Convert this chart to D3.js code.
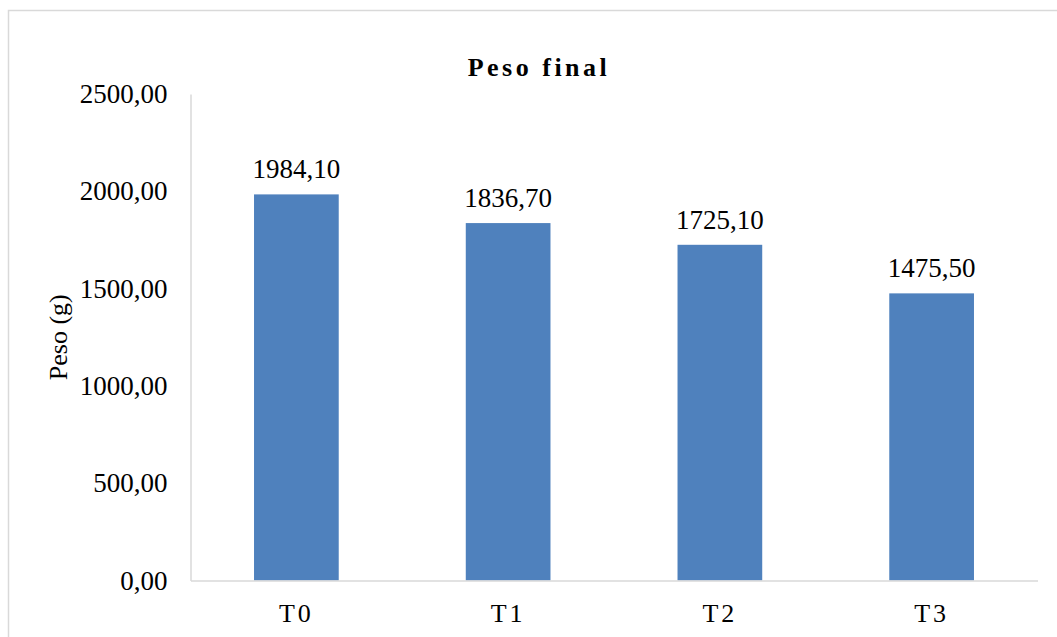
<!DOCTYPE html>
<html>
<head>
<meta charset="utf-8">
<script src="https://cdn.jsdelivr.net/npm/d3@7"></script>
<style>
  html, body { margin: 0; padding: 0; background: #fff; }
  svg { display: block; }
  text { font-family: "Liberation Serif", "Times New Roman", serif; fill: #000; }
</style>
</head>
<body>
<svg id="chart" width="1057" height="637"></svg>
<script>
// Final weight per treatment
const categories = ["T0", "T1", "T2", "T3"];
const values = [1984.10, 1836.70, 1725.10, 1475.50];
const yTicks = [0, 500, 1000, 1500, 2000, 2500];
const chartTitle = "Peso final";
const yTitle = "Peso (g)";

const W = 1057, H = 637;
const margin = { left: 190.5, right: 19.5, top: 94, bottom: 56.5 };

const svg = d3.select("#chart");
const fmt = v => d3.format(".2f")(v).replace(".", ",");

// chart frame
svg.append("rect")
  .attr("x", 8.5).attr("y", 10.5)
  .attr("width", W + 20).attr("height", H + 20)
  .attr("fill", "none").attr("stroke", "#D9D9D9").attr("stroke-width", 1.5);

const x = d3.scaleBand()
  .domain(categories)
  .range([margin.left, W - margin.right])
  .paddingInner(0.6).paddingOuter(0.3);

const y = d3.scaleLinear()
  .domain([0, 2500])
  .range([H - margin.bottom, margin.top]);

// y axis
const yAxis = svg.append("g")
  .attr("transform", `translate(${margin.left},0)`)
  .call(d3.axisLeft(y).tickValues(yTicks).tickSize(0).tickPadding(23).tickFormat(fmt));
yAxis.select(".domain").attr("stroke", "#D9D9D9").attr("stroke-width", 1.5);
yAxis.selectAll("text")
  .style("font-family", "Liberation Serif, Times New Roman, serif")
  .style("font-size", "27px").attr("fill", "#000");

// bars
svg.append("g").selectAll("rect")
  .data(values)
  .join("rect")
  .attr("x", (d, i) => x(categories[i]))
  .attr("width", x.bandwidth())
  .attr("y", d => y(d))
  .attr("height", d => y(0) - y(d))
  .attr("fill", "#4F81BD");

// x axis
const xAxis = svg.append("g")
  .attr("transform", `translate(0,${y(0)})`)
  .call(d3.axisBottom(x).tickSize(0).tickPadding(23));
xAxis.select(".domain").attr("stroke", "#D9D9D9").attr("stroke-width", 1.5);
xAxis.selectAll("text")
  .style("font-family", "Liberation Serif, Times New Roman, serif")
  .style("font-size", "26px").style("letter-spacing", "3px").attr("fill", "#000");

// value labels
svg.append("g").selectAll("text")
  .data(values)
  .join("text")
  .attr("x", (d, i) => x(categories[i]) + x.bandwidth() / 2)
  .attr("y", d => y(d) - 16)
  .attr("text-anchor", "middle")
  .style("font-size", "27px")
  .text(d => fmt(d));

// title
svg.append("text")
  .attr("x", 539).attr("y", 76)
  .attr("text-anchor", "middle")
  .style("font-size", "26px").style("font-weight", "bold").style("letter-spacing", "3.5px")
  .text(chartTitle);

// y axis title
svg.append("text")
  .attr("transform", `translate(67,${(y(0) + y(2500)) / 2}) rotate(-90)`)
  .attr("text-anchor", "middle")
  .style("font-size", "26px")
  .text(yTitle);
</script>
</body>
</html>
